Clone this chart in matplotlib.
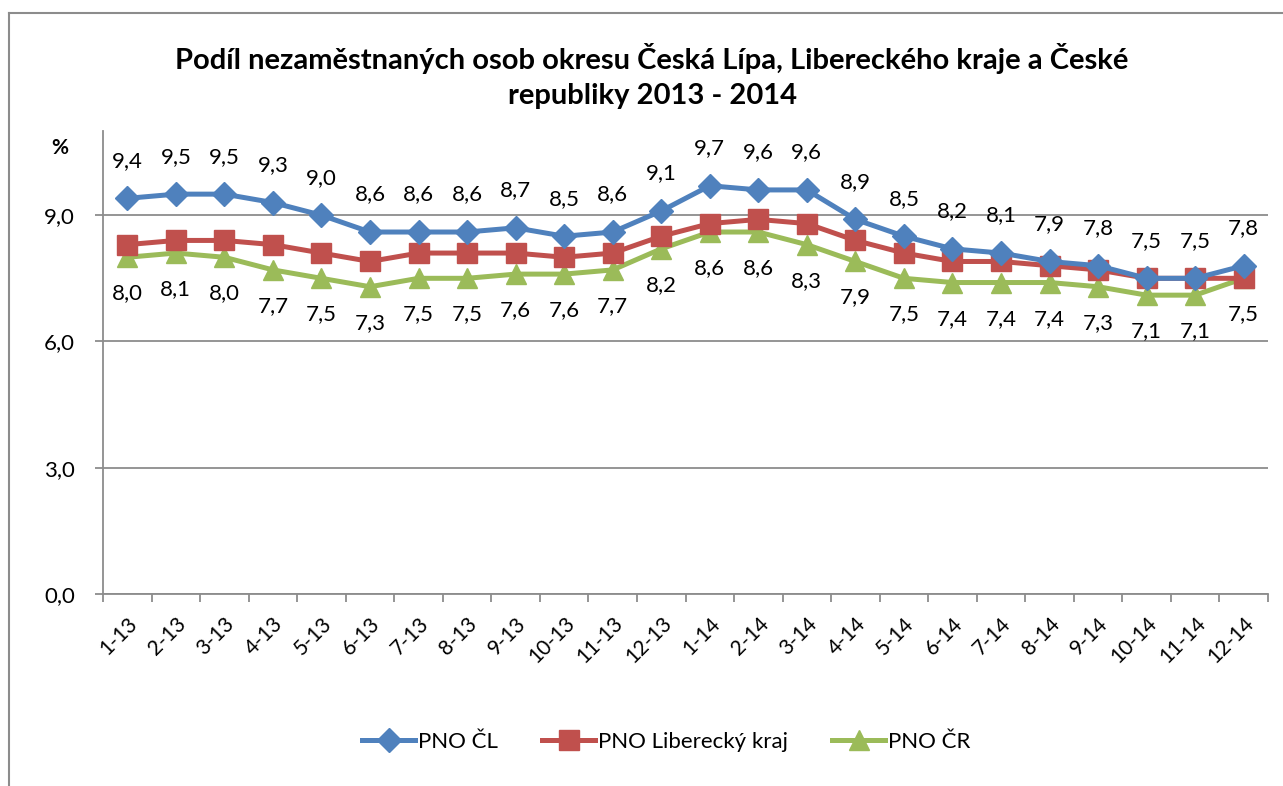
import matplotlib.pyplot as plt
from matplotlib.lines import Line2D

plt.rcParams['font.family'] = ['Lato', 'DejaVu Sans']

months = ['1-13', '2-13', '3-13', '4-13', '5-13', '6-13', '7-13', '8-13', '9-13',
          '10-13', '11-13', '12-13', '1-14', '2-14', '3-14', '4-14', '5-14', '6-14',
          '7-14', '8-14', '9-14', '10-14', '11-14', '12-14']

pno_cl = [9.4, 9.5, 9.5, 9.3, 9.0, 8.6, 8.6, 8.6, 8.7, 8.5, 8.6, 9.1,
          9.7, 9.6, 9.6, 8.9, 8.5, 8.2, 8.1, 7.9, 7.8, 7.5, 7.5, 7.8]
pno_lk = [8.3, 8.4, 8.4, 8.3, 8.1, 7.9, 8.1, 8.1, 8.1, 8.0, 8.1, 8.5,
          8.8, 8.9, 8.8, 8.4, 8.1, 7.9, 7.9, 7.8, 7.7, 7.5, 7.5, 7.5]
pno_cr = [8.0, 8.1, 8.0, 7.7, 7.5, 7.3, 7.5, 7.5, 7.6, 7.6, 7.7, 8.2,
          8.6, 8.6, 8.3, 7.9, 7.5, 7.4, 7.4, 7.4, 7.3, 7.1, 7.1, 7.5]

yticks = [0, 3, 6, 9]

BLUE = '#4F81BD'
RED = '#C0504D'
GREEN = '#9BBB59'
GRID = '#8C8C8C'


def fmt(v):
    return f'{v:.1f}'.replace('.', ',')


def main():
    fig = plt.figure(figsize=(12.83, 7.86), dpi=100)
    ax = fig.add_axes([103 / 1283, 1 - 594 / 786, 1165 / 1283, 463 / 786])

    # outer chart frame (only top and left edges visible in the crop)
    fig.add_artist(Line2D([9 / 1283, 9 / 1283], [0, 1 - 13 / 786], color=GRID, lw=1.5))
    fig.add_artist(Line2D([9 / 1283, 1], [1 - 13 / 786, 1 - 13 / 786], color=GRID, lw=1.5))

    x = list(range(len(months)))
    ax.plot(x, pno_cl, color=BLUE, lw=3.6, marker='D', ms=12, label='PNO ČL', zorder=5)
    ax.plot(x, pno_lk, color=RED, lw=3.6, marker='s', ms=14, label='PNO Liberecký kraj', zorder=4)
    ax.plot(x, pno_cr, color=GREEN, lw=3.6, marker='^', ms=15, label='PNO ČR', zorder=3)

    for i, v in enumerate(pno_cl):
        ax.annotate(fmt(v), (i, v), xytext=(0, 27), textcoords='offset points',
                    ha='center', va='center', fontsize=16)
    for i, v in enumerate(pno_cr):
        ax.annotate(fmt(v), (i, v), xytext=(0, -26), textcoords='offset points',
                    ha='center', va='center', fontsize=16)

    ax.set_xlim(-0.5, len(months) - 0.5)
    ax.set_ylim(0, 11)
    ax.set_yticks(yticks)
    ax.set_yticklabels([fmt(v) for v in yticks], fontsize=16)
    ax.yaxis.grid(True, color=GRID, lw=1.3)
    ax.set_axisbelow(True)

    ax.set_xticks(x)
    ax.set_xticklabels(months, rotation=45, ha='right', va='top',
                       rotation_mode='anchor', fontsize=15)
    ax.set_xticks([i - 0.5 for i in range(len(months) + 1)], minor=True)
    ax.tick_params(axis='x', which='major', length=0, pad=14)
    ax.tick_params(axis='x', which='minor', length=6, width=1.3, color=GRID)
    ax.tick_params(axis='y', length=6, width=1.3, color=GRID, pad=14)

    for s in ['top', 'right']:
        ax.spines[s].set_visible(False)
    for s in ['left', 'bottom']:
        ax.spines[s].set_color(GRID)
        ax.spines[s].set_linewidth(1.3)

    fig.text(60 / 1283, 1 - 148 / 786, '%', fontsize=15, fontweight='bold',
             ha='center', va='center')
    fig.text(652 / 1283, 1 - 76 / 786,
             'Podíl nezaměstnaných osob okresu Česká Lípa, Libereckého kraje a České\nrepubliky 2013 - 2014',
             fontsize=21, fontweight='bold', ha='center', va='center', linespacing=1.45)

    fig.legend(loc='center', bbox_to_anchor=(666 / 1283, 1 - 742 / 786), ncol=3,
               frameon=False, fontsize=16, handlelength=2.4, handletextpad=0.1,
               columnspacing=2.0)

    fig.savefig('out.png', dpi=100)


if __name__ == '__main__':
    main()
